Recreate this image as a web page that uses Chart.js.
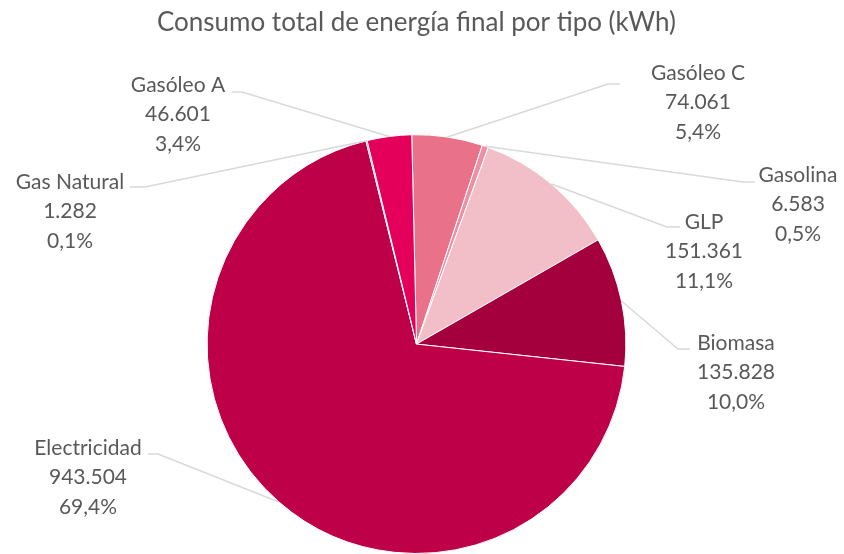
<!DOCTYPE html>
<html>
<head>
<meta charset="utf-8">
<script src="https://cdn.jsdelivr.net/npm/chart.js@4"></script>
<style>
  html, body { margin: 0; padding: 0; background: #fff; }
  #wrap { width: 844px; height: 554px; }
</style>
</head>
<body>
<div id="wrap"><canvas id="myChart" width="844" height="554"></canvas></div>
<script>
// datos (kWh)
const tipos = ['Gasóleo C', 'Gasolina', 'GLP', 'Biomasa', 'Electricidad', 'Gas Natural', 'Gasóleo A'];
const consumo = [74061, 6583, 151361, 135828, 943504, 1282, 46601];
const colores = ['#E9728A', '#EC91A3', '#F2BFC8', '#A5003E', '#BE0048', '#C81555', '#E4005A'];

// posicion de las etiquetas: centro del texto, primera linea, codo de la linea guia
const etiquetas = [
    {x: 698, y: 73, x1: 608, x2: 620, ly: 84},
    {x: 798, y: 175, x1: 743, x2: 755, ly: 182},
    {x: 704, y: 222, x1: 667, x2: 680, ly: 227},
    {x: 736, y: 343, x1: 678, x2: 690, ly: 349},
    {x: 88, y: 448, x1: 158, x2: 148, ly: 454},
    {x: 70, y: 182, x1: 145, x2: 130, ly: 187},
    {x: 178, y: 85, x1: 242, x2: 232, ly: 92}
];

const total = consumo.reduce((a, b) => a + b, 0);

function formatoMiles(v) {
    return v.toString().replace(/\B(?=(\d{3})+(?!\d))/g, '.');
}

// Etiquetas con lineas guia, estilo Excel
const etiquetasPlugin = {
    id: 'etiquetasPie',
    afterDatasetsDraw(chart) {
        const c = chart.ctx;
        const meta = chart.getDatasetMeta(0);
        c.save();
        meta.data.forEach((arc, i) => {
            const e = etiquetas[i];
            const mid = (arc.startAngle + arc.endAngle) / 2;
            const sx = arc.x + Math.cos(mid) * arc.outerRadius;
            const sy = arc.y + Math.sin(mid) * arc.outerRadius;
            c.strokeStyle = '#D9D9D9';
            c.lineWidth = 1.5;
            c.beginPath();
            c.moveTo(sx, sy);
            c.lineTo(e.x1, e.ly);
            c.lineTo(e.x2, e.ly);
            c.stroke();

            c.fillStyle = '#595959';
            c.font = '21px Lato';
            c.textAlign = 'center';
            c.textBaseline = 'middle';
            const pct = (consumo[i] / total * 100).toFixed(1).replace('.', ',') + '%';
            const lineas = [tipos[i], formatoMiles(consumo[i]), pct];
            lineas.forEach((t, k) => c.fillText(t, e.x, e.y + k * 29.5));
        });
        c.restore();
    }
};

const ctx = document.getElementById('myChart');
window.myChart = new Chart(ctx, {
    type: 'pie',
    data: {
        labels: tipos,
        datasets: [{
            data: consumo,
            backgroundColor: colores,
            borderColor: '#ffffff',
            borderWidth: 1
        }]
    },
    options: {
        responsive: false,
        animation: false,
        rotation: -1.3,
        layout: {
            padding: {left: 0, right: 11, top: 0, bottom: 0}
        },
        plugins: {
            legend: {display: false},
            tooltip: {enabled: false},
            title: {
                display: true,
                text: 'Consumo total de energía final por tipo (kWh)',
                color: '#595959',
                font: {family: 'Lato', size: 26, weight: 'normal'},
                padding: {top: 7, bottom: 96}
            }
        }
    },
    plugins: [etiquetasPlugin]
});
</script>
</body>
</html>
